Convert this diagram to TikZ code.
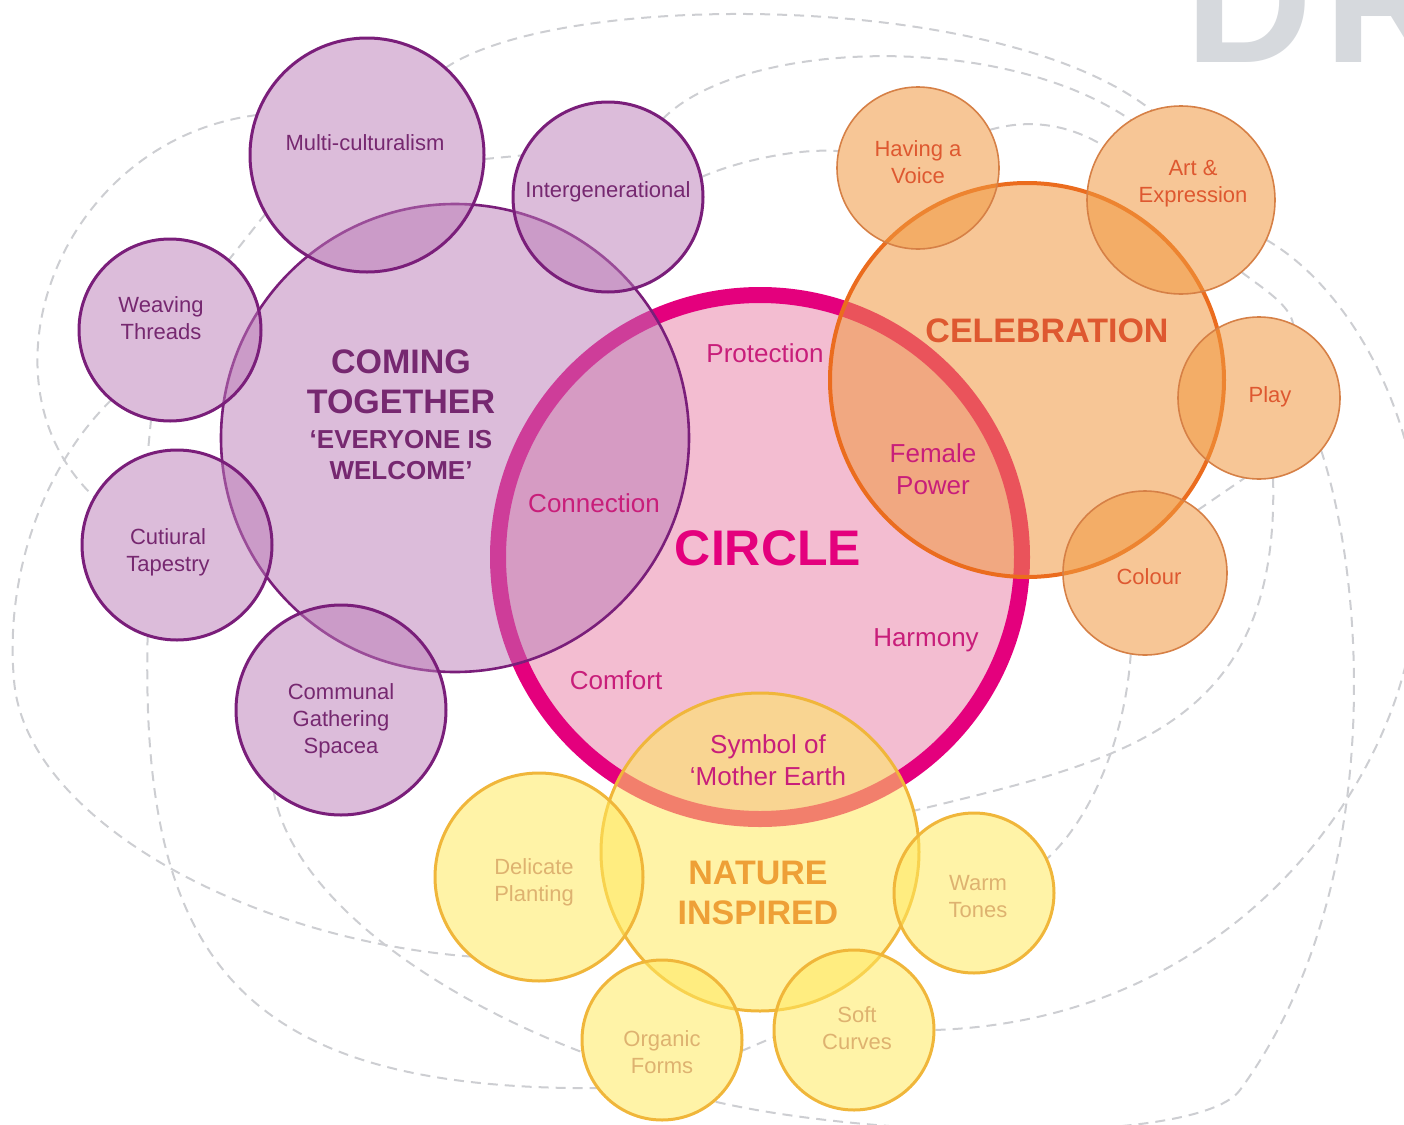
\documentclass[tikz,border=0pt]{standalone}
\usepackage{fontspec}
\setmainfont{Liberation Sans}
\usetikzlibrary{positioning, backgrounds}

\definecolor{purpfill}{RGB}{186,122,182}
\definecolor{purpline}{RGB}{122,30,122}
\definecolor{purptext}{RGB}{118,40,112}
\definecolor{pinkfill}{RGB}{243,189,209}
\definecolor{pinkline}{RGB}{228,0,125}
\definecolor{pinktext}{RGB}{200,30,122}
\definecolor{orangefill}{RGB}{240,152,64}
\definecolor{orangeline}{RGB}{235,108,30}
\definecolor{orangethin}{RGB}{214,128,70}
\definecolor{orangetext}{RGB}{222,88,48}
\definecolor{yellowfill}{RGB}{255,233,95}
\definecolor{yellowline}{RGB}{240,182,58}
\definecolor{naturetext}{RGB}{238,160,55}
\definecolor{yellowtext}{RGB}{222,178,112}
\definecolor{dashgray}{RGB}{205,206,210}
\definecolor{draftgray}{RGB}{214,217,221}

\tikzset{
bubble/.style={circle, inner sep=0pt, outer sep=0pt, fill opacity=0.5}, % every circle of the diagram
purple bubble/.style={bubble, draw=purpline, line width=1.5pt, fill=purpfill},
orange bubble/.style={bubble, draw=orangethin, line width=0.8pt, fill=orangefill, fill opacity=0.55},
yellow bubble/.style={bubble, draw=yellowline, line width=1.5pt, fill=yellowfill, fill opacity=0.55},
orbit/.style={draw=dashgray, line width=1pt, dash pattern=on 5pt off 3.5pt}, % the grey dashed links
small label/.style={align=center, font=\fontsize{11}{13.5}\selectfont},
circle label/.style={align=center, text=pinktext, font=\fontsize{13}{16}\selectfont},
headline/.style={align=center, font=\bfseries\fontsize{17}{20}\selectfont},
}

\begin{document}
\begin{tikzpicture}[x=0.5pt, y=-0.5pt] % one unit is one pixel of the sketch
    \useasboundingbox (0,0) rectangle (1404,1125);

    \node[text=draftgray, font=\bfseries\fontsize{88}{88}\selectfont, anchor=base west, inner sep=0pt] (draft) at (1185,62) {D\kern6pt R};

    % the circle itself
    \node[bubble, fill=pinkfill, fill opacity=1, draw=pinkline, line width=8pt, minimum size=262pt] (circ) at (760,557) {};

    % coming together
    \node[purple bubble, line width=1.3pt, minimum size=234pt] (together) at (455,438) {};
    \node[purple bubble, minimum size=117pt] (multi) at (367,155) {};
    \node[purple bubble, minimum size=95pt] (inter) at (608,197) {};
    \node[purple bubble, minimum size=91pt] (weave) at (170,330) {};
    \node[purple bubble, minimum size=95pt] (tapestry) at (177,545) {};
    \node[purple bubble, minimum size=105pt] (communal) at (341,710) {};

    % celebration
    \node[orange bubble, draw=orangeline, line width=2pt, minimum size=197pt] (celeb) at (1027,380) {};
    \node[orange bubble, minimum size=81pt] (voice) at (918,168) {};
    \node[orange bubble, minimum size=94pt] (artexp) at (1181,200) {};
    \node[orange bubble, minimum size=81pt] (play) at (1259,398) {};
    \node[orange bubble, minimum size=82pt] (colour) at (1145,573) {};

    % nature inspired
    \node[yellow bubble, minimum size=159pt] (nature) at (760,852) {};
    \node[yellow bubble, minimum size=104pt] (delicate) at (539,877) {};
    \node[yellow bubble, minimum size=80pt] (warm) at (974,893) {};
    \node[yellow bubble, minimum size=80pt] (organic) at (662,1040) {};
    \node[yellow bubble, minimum size=80pt] (soft) at (854,1030) {};

    \begin{scope}[on background layer]
    \draw[orbit] (multi.48) .. controls (560,-10) and (1000,-10) .. (artexp.108);
    \draw[orbit] (inter.55) .. controls (740,40) and (1000,30) .. (artexp.122);
    \draw[orbit] (multi.-2) -- (inter.154);
    \draw[orbit] (inter.12) .. controls (740,160) and (800,148) .. (voice.168);
    \draw[orbit] (voice.28) .. controls (1030,118) and (1070,125) .. (artexp.145);
    \draw[orbit] (artexp.-25) .. controls (1370,300) and (1440,470) .. (1415,600)
                 .. controls (1410,760) and (1250,1020) .. (soft.0);
    \draw[orbit] (artexp.-50) .. controls (1265,290) and (1290,305) .. (play.65);
    \draw[orbit] (play.-40) .. controls (1370,600) and (1380,900) .. (1240,1090)
                 .. controls (1200,1145) and (880,1140) .. (organic.-50);
    \draw[orbit] (play.-80) .. controls (1280,730) and (1120,760) .. (nature.15);
    \draw[orbit] (colour.-100) .. controls (1125,740) and (1090,820) .. (warm.25);
    \draw[orbit] (colour.50) -- (play.-100);
    \draw[orbit] (multi.-150) -- (weave.50);
    \draw[orbit] (multi.160) .. controls (60,140) and (-30,380) .. (tapestry.150);
    \draw[orbit] (weave.-130) .. controls (40,470) and (5,580) .. (14,680)
                 .. controls (25,820) and (250,940) .. (delicate.-130);
    \draw[orbit] (weave.-102) -- (tapestry.108);
    \draw[orbit] (tapestry.-108) .. controls (140,960) and (240,1090) .. (organic.-143);
    \draw[orbit] (communal.-130) .. controls (290,890) and (420,990) .. (organic.-171);
    \draw[orbit] (organic.-8) -- (soft.-175);
    \end{scope}

    % labels
    \node[small label, text=purptext] (lmulti) at (365,143) {Multi-culturalism};
    \node[small label, text=purptext] (linter) at (608,192) {Intergenerational};
    \node[small label, text=purptext] (lweave) at (161,318) {Weaving\\Threads};
    \node[small label, text=purptext] (ltapestry) at (168,552) {Cutiural\\Tapestry};
    \node[small label, text=purptext] (lcommunal) at (341,721) {Communal\\Gathering\\Spacea};
    \node[headline, text=purptext] (lcoming) at (401,382) {COMING\\TOGETHER};
    \node[align=center, text=purptext, font=\bfseries\fontsize{13}{15.5}\selectfont, below=1pt of lcoming] (lwelcome) {‘EVERYONE IS\\WELCOME’};

    \node[circle label] (lprotect) at (765,353) {Protection};
    \node[circle label] (lconnect) at (594,503) {Connection};
    \node[circle label] (lfemale) at (933,469) {Female\\Power};
    \node[circle label] (lharmony) at (926,640) {Harmony};
    \node[circle label] (lcomfort) at (616,680) {Comfort};
    \node[circle label] (lsymbol) at (768,760) {Symbol of\\‘Mother Earth};
    \node[text=pinkline, font=\bfseries\fontsize{25}{25}\selectfont] (lcircle) at (768,548) {CIRCLE};

    \node[headline, text=orangetext] (lceleb) at (1047,331) {CELEBRATION};
    \node[small label, text=orangetext] (lvoice) at (918,162) {Having a\\Voice};
    \node[small label, text=orangetext] (lart) at (1193,184) {Art \&\\Expression};
    \node[small label, text=orangetext] (lplay) at (1270,397) {Play};
    \node[small label, text=orangetext] (lcolour) at (1149,577) {Colour};

    \node[headline, text=naturetext] (lnature) at (758,893) {NATURE\\INSPIRED};
    \node[small label, text=yellowtext] (ldelicate) at (534,882) {Delicate\\Planting};
    \node[small label, text=yellowtext] (lwarm) at (978,897) {Warm\\Tones};
    \node[small label, text=yellowtext] (lorganic) at (662,1052) {Organic\\Forms};
    \node[small label, text=yellowtext] (lsoft) at (857,1028) {Soft\\Curves};
\end{tikzpicture}
\end{document}
